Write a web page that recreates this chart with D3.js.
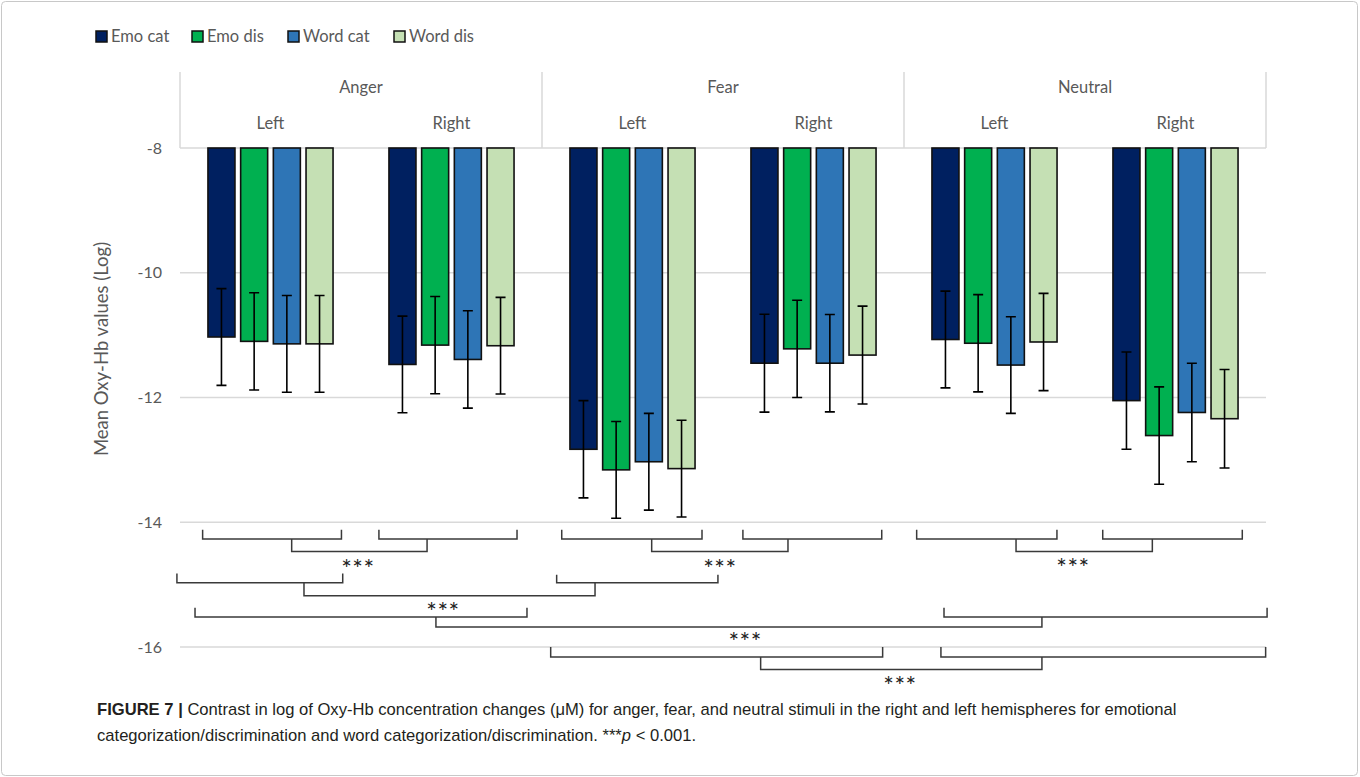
<!DOCTYPE html>
<html lang="en">
    <head>
        <meta charset="utf-8" />
        <title>Figure 7</title>
        <script type="text/javascript" src="https://cdn.jsdelivr.net/npm/d3@7"></script>
        <style type="text/css">
            body { margin: 0; background: #fff; }
            svg text { font-family: Lato, "Open Sans", sans-serif; }
            svg text.caption { font-family: "Liberation Sans", Arial, sans-serif; }
        </style>
    </head>
    <body>
        <script type="text/javascript">
            var groups = ["Anger", "Fear", "Neutral"];
            var sides = ["Left", "Right"];
            var series = ["Emo cat", "Emo dis", "Word cat", "Word dis"];
            var colors = ["#002060", "#00b050", "#2e75b6", "#c5e0b4"];

            // one value per group/side: Anger L, Anger R, Fear L, Fear R, Neutral L, Neutral R
            var emoCat = [-11.03, -11.47, -12.83, -11.45, -11.07, -12.05];
            var emoDis = [-11.10, -11.16, -13.16, -11.22, -11.13, -12.61];
            var wordCat = [-11.14, -11.39, -13.03, -11.45, -11.48, -12.24];
            var wordDis = [-11.14, -11.17, -13.14, -11.32, -11.11, -12.34];
            var emoCatErr = [0.775, 0.775, 0.78, 0.785, 0.775, 0.78];
            var emoDisErr = [0.78, 0.78, 0.775, 0.78, 0.78, 0.78];
            var wordCatErr = [0.775, 0.78, 0.775, 0.78, 0.775, 0.79];
            var wordDisErr = [0.775, 0.775, 0.775, 0.785, 0.78, 0.79];
            var yTicks = [-8, -10, -12, -14, -16];

            // significance brackets: [from, to, top, bottom] (x in sub-group units, y in axis units)
            var brackets = [
                [0.125, 0.892, -14.12, -14.27],
                [1.099, 1.862, -14.12, -14.27],
                [0.617, 1.365, -14.27, -14.47],
                [2.109, 2.884, -14.12, -14.27],
                [3.110, 3.877, -14.12, -14.27],
                [2.606, 3.359, -14.27, -14.47],
                [4.070, 4.845, -14.12, -14.27],
                [5.098, 5.869, -14.12, -14.27],
                [4.619, 5.372, -14.27, -14.47],
                [-0.017, 0.899, -14.82, -14.97],
                [2.081, 2.972, -14.84, -14.97],
                [0.685, 2.293, -14.97, -15.18],
                [0.083, 1.917, -15.37, -15.52],
                [4.221, 6.006, -15.37, -15.52],
                [1.414, 4.762, -15.52, -15.68],
                [2.048, 3.882, -16.0, -16.16],
                [4.204, 5.998, -16.0, -16.16],
                [3.208, 4.762, -16.16, -16.36]
            ];
            var starsX = [0.983, 2.983, 4.934, 1.453, 3.122, 3.978];
            var starsY = [-14.67, -14.67, -14.66, -15.36, -15.84, -16.54];

            var w = 1360;
            var h = 777;
            var left = 180;
            var right = 1266;
            var headerTop = 72;

            var svg = d3
                .select("body")
                .append("svg")
                .attr("width", w)
                .attr("height", h);

            // outer frame
            svg.append("rect")
                .attr("x", 1.5)
                .attr("y", 1.5)
                .attr("width", w - 4)
                .attr("height", h - 3)
                .attr("rx", 4)
                .attr("fill", "none")
                .attr("stroke", "#c8c8c8");

            var yScale = d3.scaleLinear().domain([-8, -16]).range([148, 647]);

            var cells = [];
            groups.forEach(function(g) {
                sides.forEach(function(s) {
                    cells.push(g + "|" + s);
                });
            });
            var xCell = d3.scaleBand().domain(cells).range([left, right]);
            var xSeries = d3
                .scaleBand()
                .domain(series)
                .range([0, xCell.bandwidth()])
                .paddingInner(0.174)
                .paddingOuter(0.855);
            var xUnit = d3.scaleLinear().domain([0, cells.length]).range([left, right]);
            var xGroup = d3.scaleBand().domain(groups).range([left, right]);

            // gridlines + tick labels
            svg.append("g")
                .selectAll("line")
                .data(yTicks)
                .enter()
                .append("line")
                .attr("x1", left)
                .attr("x2", right)
                .attr("y1", function(d) { return yScale(d); })
                .attr("y2", function(d) { return yScale(d); })
                .attr("stroke", "#d9d9d9")
                .attr("stroke-width", 1.5);

            svg.append("g")
                .selectAll("text")
                .data(yTicks)
                .enter()
                .append("text")
                .attr("x", 162)
                .attr("y", function(d) { return yScale(d); })
                .attr("dy", "0.35em")
                .attr("text-anchor", "end")
                .attr("font-size", "16px")
                .attr("fill", "#595959")
                .text(function(d) { return d; });

            svg.append("text")
                .attr("transform", "translate(108," + 349 + ") rotate(-90)")
                .attr("text-anchor", "middle")
                .attr("font-size", "18.5px")
                .attr("fill", "#595959")
                .text("Mean Oxy-Hb values (Log)");

            // header (category axis on top)
            var seps = d3.range(groups.length + 1).map(function(i) {
                return i < groups.length ? xGroup(groups[i]) : right;
            });
            svg.append("g")
                .selectAll("line")
                .data(seps)
                .enter()
                .append("line")
                .attr("x1", function(d) { return d; })
                .attr("x2", function(d) { return d; })
                .attr("y1", headerTop)
                .attr("y2", yScale(-8))
                .attr("stroke", "#d9d9d9")
                .attr("stroke-width", 1.5);

            svg.append("g")
                .selectAll("text")
                .data(groups)
                .enter()
                .append("text")
                .attr("x", function(d) { return xGroup(d) + xGroup.bandwidth() / 2; })
                .attr("y", 87)
                .attr("dy", "0.35em")
                .attr("text-anchor", "middle")
                .attr("font-size", "16.5px")
                .attr("fill", "#595959")
                .text(function(d) { return d; });

            svg.append("g")
                .selectAll("text")
                .data(cells)
                .enter()
                .append("text")
                .attr("x", function(d) { return xCell(d) + xCell.bandwidth() / 2; })
                .attr("y", 123)
                .attr("dy", "0.35em")
                .attr("text-anchor", "middle")
                .attr("font-size", "16.5px")
                .attr("fill", "#595959")
                .text(function(d) { return d.split("|")[1]; });

            // bars
            var values = [emoCat, emoDis, wordCat, wordDis];
            var errs = [emoCatErr, emoDisErr, wordCatErr, wordDisErr];
            var bars = [];
            series.forEach(function(s, si) {
                cells.forEach(function(c, ci) {
                    bars.push({ cell: c, series: s, si: si, value: values[si][ci], err: errs[si][ci] });
                });
            });

            svg.append("g")
                .selectAll("rect")
                .data(bars)
                .enter()
                .append("rect")
                .attr("x", function(d) { return xCell(d.cell) + xSeries(d.series); })
                .attr("y", yScale(-8))
                .attr("width", xSeries.bandwidth())
                .attr("height", function(d) { return yScale(d.value) - yScale(-8); })
                .attr("fill", function(d) { return colors[d.si]; })
                .attr("stroke", "#111")
                .attr("stroke-width", 1.6);

            // error bars
            var cx = function(d) { return xCell(d.cell) + xSeries(d.series) + xSeries.bandwidth() / 2; };
            var eb = svg.append("g").attr("stroke", "#000").attr("stroke-width", 1.6);
            eb.selectAll("path")
                .data(bars)
                .enter()
                .append("path")
                .attr("fill", "none")
                .attr("d", function(d) {
                    var x = cx(d), y1 = yScale(d.value + d.err), y2 = yScale(d.value - d.err);
                    return "M" + (x - 5) + "," + y1 + "H" + (x + 5) +
                        "M" + x + "," + y1 + "V" + y2 +
                        "M" + (x - 5) + "," + y2 + "H" + (x + 5);
                });

            // significance brackets
            svg.append("g")
                .selectAll("path")
                .data(brackets)
                .enter()
                .append("path")
                .attr("fill", "none")
                .attr("stroke", "#3a3a3a")
                .attr("stroke-width", 1.5)
                .attr("d", function(d) {
                    return "M" + xUnit(d[0]) + "," + yScale(d[2]) +
                        "V" + yScale(d[3]) + "H" + xUnit(d[1]) + "V" + yScale(d[2]);
                });

            svg.append("g")
                .selectAll("text")
                .data(starsX)
                .enter()
                .append("text")
                .attr("x", function(d) { return xUnit(d); })
                .attr("y", function(d, i) { return yScale(starsY[i]) + 14; })
                .attr("text-anchor", "middle")
                .attr("font-family", "'DejaVu Sans', sans-serif")
                .attr("font-size", "25px")
                .attr("letter-spacing", "0.5px")
                .attr("fill", "#222")
                .text("***");

            // legend
            var legX = [96, 192, 288, 394];
            var leg = svg.append("g")
                .selectAll("g")
                .data(series)
                .enter()
                .append("g")
                .attr("transform", function(d, i) { return "translate(" + legX[i] + ",31)"; });
            leg.append("rect")
                .attr("width", 11)
                .attr("height", 11)
                .attr("fill", function(d, i) { return colors[i]; })
                .attr("stroke", "#111")
                .attr("stroke-width", 1.5);
            leg.append("text")
                .attr("x", 15)
                .attr("y", 5.5)
                .attr("dy", "0.35em")
                .attr("font-size", "16.5px")
                .attr("fill", "#595959")
                .text(function(d) { return d; });

            // caption
            var cap = svg.append("g").attr("fill", "#231f20");
            var line1 = cap.append("text")
                .attr("class", "caption")
                .attr("x", 97)
                .attr("y", 715)
                .attr("font-size", "16.6px");
            line1.append("tspan").attr("font-weight", "bold").text("FIGURE 7 | ");
            line1.append("tspan").text("Contrast in log of Oxy-Hb concentration changes (\u03bcM) for anger, fear, and neutral stimuli in the right and left hemispheres for emotional");
            var line2 = cap.append("text")
                .attr("class", "caption")
                .attr("x", 97)
                .attr("y", 741)
                .attr("font-size", "16.6px");
            line2.append("tspan").text("categorization/discrimination and word categorization/discrimination. ***");
            line2.append("tspan").attr("font-style", "italic").text("p");
            line2.append("tspan").text(" < 0.001.");
        </script>
    </body>
</html>
